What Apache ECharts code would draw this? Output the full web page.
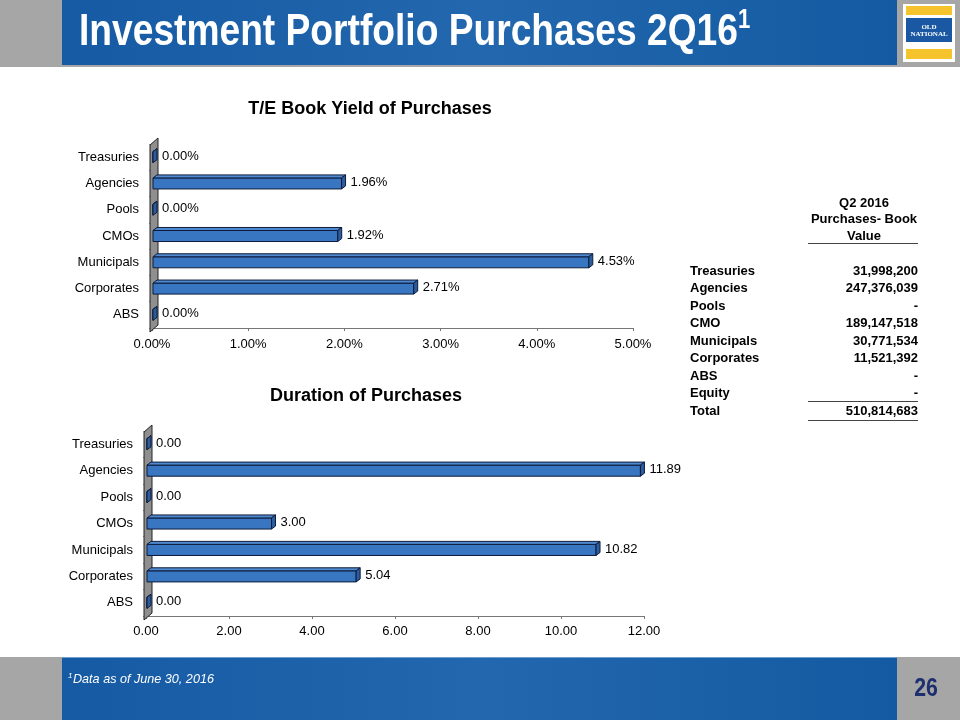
<!DOCTYPE html>
<html>
<head>
<meta charset="utf-8">
<script src="https://cdn.jsdelivr.net/npm/echarts@6/dist/echarts.min.js"></script>
<style>html,body{margin:0;padding:0;background:#fff}#c{width:960px;height:720px}</style>
</head>
<body>
<div id="c"></div>
<script>
// ---- data ----
const categories = ['Treasuries', 'Agencies', 'Pools', 'CMOs', 'Municipals', 'Corporates', 'ABS'];
const yieldValues = [0.00, 1.96, 0.00, 1.92, 4.53, 2.71, 0.00];       // T/E book yield (%)
const durationValues = [0.00, 11.89, 0.00, 3.00, 10.82, 5.04, 0.00];  // duration (years)
const yieldAxis = { min: 0, max: 5, interval: 1 };
const durationAxis = { min: 0, max: 12, interval: 2 };
const tableLabels = ['Treasuries', 'Agencies', 'Pools', 'CMO', 'Municipals', 'Corporates', 'ABS', 'Equity', 'Total'];
const tableValues = ['31,998,200', '247,376,039', '-', '189,147,518', '30,771,534', '11,521,392', '-', '-', '510,814,683'];
const tableHeader = ['Q2 2016', 'Purchases- Book', 'Value'];
const pageTitle = 'Investment Portfolio Purchases 2Q16';
const footnote = 'Data as of June 30, 2016';
const pageNumber = '26';

const FONT = '"Liberation Sans", Arial, Helvetica, sans-serif';
const DX = 4, DY = 3;

function makeBar(fmt) {
  return function (params, api) {
    const v = api.value(0), ci = api.value(1);
    const p0 = api.coord([0, ci]);
    const p1 = api.coord([v, ci]);
    const band = api.size([0, 1])[1];
    const h = band * 0.42;
    const x0 = p0[0] + 1, x1 = p1[0] + 1;
    const yt = p0[1] - h / 2, yb = p0[1] + h / 2;
    const stroke = '#0e1b3a';
    return {
      type: 'group',
      children: [
        { type: 'rect', shape: { x: x0, y: yt, width: Math.max(x1 - x0, 0), height: h },
          style: { fill: '#3876c2', stroke: stroke, lineWidth: 1 } },
        { type: 'polygon', shape: { points: [[x0, yt], [x0 + DX, yt - DY], [x1 + DX, yt - DY], [x1, yt]] },
          style: { fill: '#4f8ad0', stroke: stroke, lineWidth: 1 } },
        { type: 'polygon', shape: { points: [[x1, yt], [x1 + DX, yt - DY], [x1 + DX, yb - DY], [x1, yb]] },
          style: { fill: '#2a5c9e', stroke: stroke, lineWidth: 1 } },
        { type: 'text', style: { text: fmt(v), x: x1 + DX + 5, y: p0[1] - 1, verticalAlign: 'middle',
          fill: '#000', font: '13px ' + FONT } }
      ]
    };
  };
}

function wall(params, api) {
  const c0 = api.coord([0, 0]);
  const band = api.size([0, 1])[1];
  const top = c0[1] - band / 2;
  const bottom = top + band * categories.length;
  const x = c0[0];
  return {
    type: 'polygon',
    shape: { points: [[x - 2, bottom + 4], [x - 2, top + 1], [x + 6, top - 6], [x + 6, bottom - 3]] },
    style: { fill: '#8f8f8f', stroke: '#222', lineWidth: 1 }
  };
}

function xAxisCfg(gi, ax, fmt, margin) {
  return {
    gridIndex: gi, type: 'value', min: ax.min, max: ax.max, interval: ax.interval,
    axisLine: { show: true, lineStyle: { color: '#777', width: 1 } },
    axisTick: { show: true, length: 3, lineStyle: { color: '#777' } },
    splitLine: { show: false },
    axisLabel: { color: '#000', fontSize: 13, fontFamily: FONT, margin: margin, formatter: fmt }
  };
}
function yAxisCfg(gi) {
  return {
    gridIndex: gi, type: 'category', data: categories, inverse: true,
    axisLine: { show: false },
    axisTick: { show: true, length: 3, inside: false, lineStyle: { color: '#999' } },
    axisLabel: { color: '#000', fontSize: 13, fontFamily: FONT, margin: 13 }
  };
}

const fmtPct = v => v.toFixed(2) + '%';
const fmtNum = v => v.toFixed(2);

const blueFill = () => new echarts.graphic.LinearGradient(0, 0, 1, 0, [
  { offset: 0, color: '#155aa3' }, { offset: 0.5, color: '#2368ae' }, { offset: 1, color: '#135aa2' }]);

const graphics = [];
// header
graphics.push({ type: 'rect', shape: { x: 0, y: 0, width: 960, height: 67 }, style: { fill: '#a6a6a6' }, silent: true });
graphics.push({ type: 'rect', shape: { x: 62, y: 0, width: 835, height: 65 }, style: { fill: blueFill() } });
graphics.push({ type: 'text', x: 79, y: 33, scaleX: 0.826, style: { text: pageTitle, x: 0, y: 0, verticalAlign: 'middle',
  fill: '#fff', font: 'bold 45px ' + FONT } });
graphics.push({ type: 'text', x: 738, y: 7, scaleX: 0.82, style: { text: '1', x: 0, y: 0, verticalAlign: 'top',
  fill: '#fff', font: 'bold 27px ' + FONT } });
// logo
graphics.push({ type: 'rect', shape: { x: 903, y: 4, width: 52, height: 58 }, style: { fill: '#fff' } });
graphics.push({ type: 'rect', shape: { x: 906, y: 6, width: 46, height: 9 }, style: { fill: '#f5c42c' } });
graphics.push({ type: 'rect', shape: { x: 906, y: 18, width: 46, height: 24 }, style: { fill: '#1a58a4' } });
graphics.push({ type: 'rect', shape: { x: 906, y: 49, width: 46, height: 10 }, style: { fill: '#f5c42c' } });
graphics.push({ type: 'text', style: { text: 'OLD', x: 929, y: 27, align: 'center', verticalAlign: 'middle',
  fill: '#fff', font: 'bold 7px "Liberation Serif", serif' } });
graphics.push({ type: 'text', style: { text: 'NATIONAL', x: 929, y: 34, align: 'center', verticalAlign: 'middle',
  fill: '#fff', font: 'bold 7px "Liberation Serif", serif' } });
// footer
graphics.push({ type: 'rect', shape: { x: 0, y: 657, width: 960, height: 63 }, style: { fill: '#a6a6a6' } });
graphics.push({ type: 'rect', shape: { x: 62, y: 657, width: 835, height: 63 }, style: { fill: blueFill() } });
graphics.push({ type: 'rect', shape: { x: 62, y: 657, width: 835, height: 1 }, style: { fill: '#6f9fd0' } });
graphics.push({ type: 'text', style: { text: '1', x: 68, y: 676, verticalAlign: 'middle', fill: '#fff',
  font: 'italic 8px ' + FONT } });
graphics.push({ type: 'text', x: 73, y: 679, scaleX: 0.97, style: { text: footnote, x: 0, y: 0, verticalAlign: 'middle', fill: '#fff',
  font: 'italic 13px ' + FONT } });
graphics.push({ type: 'text', x: 926, y: 689, scaleX: 0.85, style: { text: pageNumber, x: 0, y: 0, align: 'center', verticalAlign: 'middle',
  fill: '#1d2f6e', font: 'bold 25px ' + FONT } });
// table
const TX_L = 690, TX_R = 918, HCX = 864;
tableHeader.forEach((t, i) => graphics.push({ type: 'text', style: { text: t, x: HCX, y: 203 + i * 16.5,
  align: 'center', verticalAlign: 'middle', fill: '#000', font: 'bold 13px ' + FONT } }));
graphics.push({ type: 'rect', shape: { x: 808, y: 243, width: 110, height: 1 }, style: { fill: '#444' } });
tableLabels.forEach((t, i) => {
  const y = 271 + i * 17.5;
  graphics.push({ type: 'text', style: { text: t, x: TX_L, y: y, verticalAlign: 'middle', fill: '#000',
    font: 'bold 13px ' + FONT } });
  graphics.push({ type: 'text', style: { text: tableValues[i], x: TX_R, y: y, align: 'right', verticalAlign: 'middle',
    fill: '#000', font: 'bold 13px ' + FONT } });
});
graphics.push({ type: 'rect', shape: { x: 808, y: 401, width: 110, height: 1 }, style: { fill: '#444' } });
graphics.push({ type: 'rect', shape: { x: 808, y: 420, width: 110, height: 1 }, style: { fill: '#444' } });

const chart = echarts.init(document.getElementById('c'), null, { renderer: 'canvas' });
chart.setOption({
  animation: false,
  backgroundColor: '#fff',
  title: [
    { text: 'T/E Book Yield of Purchases', left: 365, top: 95, textAlign: 'center',
      textStyle: { fontSize: 18, fontWeight: 'bold', color: '#000', fontFamily: FONT } },
    { text: 'Duration of Purchases', left: 361, top: 382, textAlign: 'center',
      textStyle: { fontSize: 18, fontWeight: 'bold', color: '#000', fontFamily: FONT } }
  ],
  grid: [
    { left: 152, right: 327, top: 144, height: 184 },
    { left: 146, right: 316, top: 431, height: 185 }
  ],
  xAxis: [xAxisCfg(0, yieldAxis, fmtPct, 10), xAxisCfg(1, durationAxis, fmtNum, 9)],
  yAxis: [yAxisCfg(0), yAxisCfg(1)],
  series: [
    { type: 'custom', xAxisIndex: 0, yAxisIndex: 0, renderItem: wall, data: [[0, 0]], z: 1, silent: true },
    { type: 'custom', xAxisIndex: 0, yAxisIndex: 0, renderItem: makeBar(fmtPct), z: 2,
      data: yieldValues.map((v, i) => [v, i]), encode: { x: 0, y: 1 } },
    { type: 'custom', xAxisIndex: 1, yAxisIndex: 1, renderItem: wall, data: [[0, 0]], z: 1, silent: true },
    { type: 'custom', xAxisIndex: 1, yAxisIndex: 1, renderItem: makeBar(fmtNum), z: 2,
      data: durationValues.map((v, i) => [v, i]), encode: { x: 0, y: 1 } }
  ],
  graphic: graphics
});
</script>
</body>
</html>
